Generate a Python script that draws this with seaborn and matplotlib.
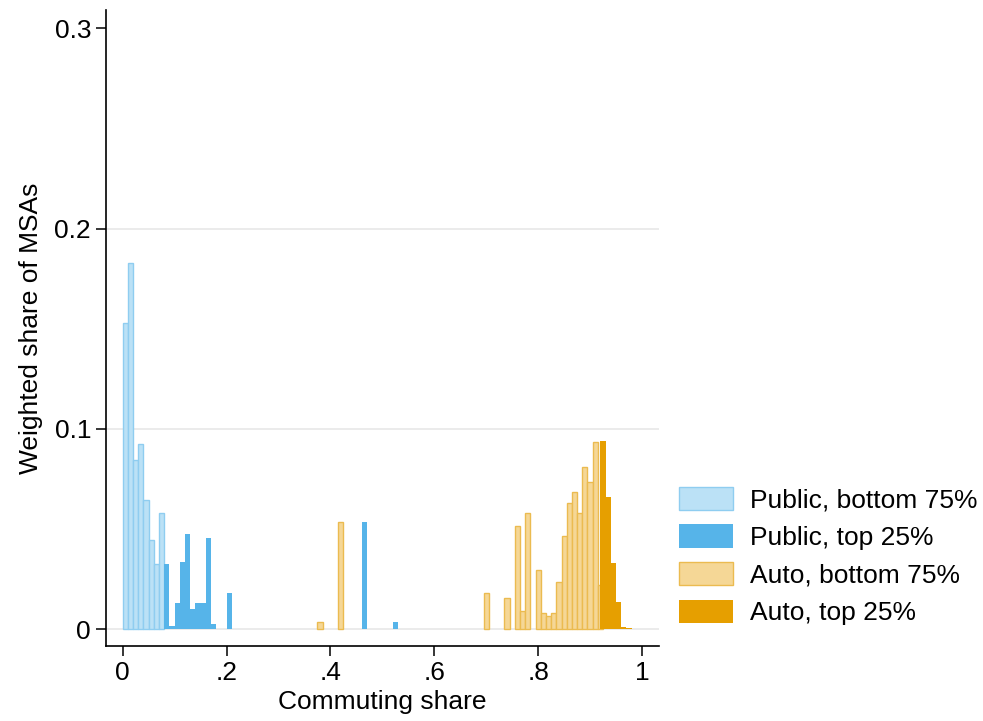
import numpy as np
import pandas as pd
import matplotlib
matplotlib.use("Agg")
import matplotlib.pyplot as plt
import seaborn as sns
from matplotlib.patches import Patch

# ---------------- data (bin left edges, weighted share) ----------------
pub_bot_bins = [0.00, 0.01, 0.02, 0.03, 0.04, 0.05, 0.06, 0.07]
pub_bot_vals = [0.153, 0.183, 0.0843, 0.0923, 0.0645, 0.0444, 0.0325, 0.058]

pub_top_bins = [0.08, 0.09, 0.10, 0.11, 0.12, 0.13, 0.14, 0.15, 0.16, 0.17, 0.20, 0.46, 0.52]
pub_top_vals = [0.0326, 0.0017, 0.013, 0.0336, 0.0477, 0.0103, 0.013, 0.013, 0.0456, 0.0027,
                0.0181, 0.0534, 0.0035]

auto_bot_bins = [0.375, 0.415, 0.695, 0.735, 0.755, 0.765, 0.775, 0.795, 0.805, 0.815, 0.825,
                 0.835, 0.845, 0.855, 0.865, 0.875, 0.885, 0.895, 0.905, 0.915]
auto_bot_vals = [0.0035, 0.0534, 0.018, 0.0155, 0.0514, 0.009, 0.058, 0.0299, 0.0081, 0.0066,
                 0.0081, 0.0236, 0.0465, 0.063, 0.0685, 0.058, 0.081, 0.0735, 0.0933, 0.0221]

auto_top_bins = [0.92, 0.93, 0.94, 0.95, 0.96, 0.97]
auto_top_vals = [0.094, 0.066, 0.033, 0.0138, 0.0012, 0.0005]

series_labels = ["Public, bottom 75%", "Public, top 25%", "Auto, bottom 75%", "Auto, top 25%"]
x_ticks = [0, 0.2, 0.4, 0.6, 0.8, 1.0]
x_ticklabels = ["0", ".2", ".4", ".6", ".8", "1"]
y_ticks = [0, 0.1, 0.2, 0.3]
y_ticklabels = ["0", "0.1", "0.2", "0.3"]
BINW = 0.01

# ---------------- style ----------------
sns.set_theme(style="white")
plt.rcParams["font.family"] = ["Liberation Sans", "DejaVu Sans"]
plt.rcParams["text.color"] = "black"

FS = 19
fills = ["#bbe1f6", "#56b4e9", "#f5d796", "#e69f00"]
edges = ["#8fcdf0", "#56b4e9", "#ebbb50", "#e69f00"]
lws = [1.0, 0.0, 1.0, 0.0]

fig = plt.figure(figsize=(9.83, 7.21), dpi=100)
ax = fig.add_axes([0.1078, 0.1036, 0.6707 - 0.1078, 0.9861 - 0.1036])

series = [(pub_bot_bins, pub_bot_vals), (pub_top_bins, pub_top_vals),
          (auto_bot_bins, auto_bot_vals), (auto_top_bins, auto_top_vals)]

for i, (b, v) in enumerate(series):
    b = np.asarray(b, dtype=float)
    nb = int(round((b.max() - b.min()) / BINW)) + 1
    bin_edges = [float(b.min() + BINW * k) for k in range(nb + 1)]
    df = pd.DataFrame({"x": b + BINW / 2, "w": np.asarray(v, dtype=float)})
    sns.histplot(data=df, x="x", weights="w", bins=bin_edges, stat="count", ax=ax,
                 color=fills[i], edgecolor=edges[i], linewidth=lws[i], alpha=1,
                 zorder=2 + i)

# remove empty bins (zero height bars)
for p in list(ax.patches):
    if p.get_height() <= 0:
        p.remove()

ax.set_xlim(-0.0322, 1.0333)
ax.set_ylim(-0.0084, 0.309)
ax.set_xticks(x_ticks)
ax.set_xticklabels(x_ticklabels)
ax.set_yticks(y_ticks)
ax.set_yticklabels(y_ticklabels)

ax.yaxis.grid(True, color="#e6e6e6", linewidth=1.1, zorder=0)
ax.set_axisbelow(True)
ax.get_ygridlines()[-1].set_visible(False)

for s in ["top", "right"]:
    ax.spines[s].set_visible(False)
for s in ["left", "bottom"]:
    ax.spines[s].set_color("black")
    ax.spines[s].set_linewidth(1.2)

ax.tick_params(axis="both", which="both", direction="out", length=7.2, width=1.1,
               color="black", labelsize=FS, labelcolor="black", pad=3.5,
               left=True, bottom=True)

ax.set_xlabel("Commuting share", fontsize=FS, color="black")
ax.set_ylabel("Weighted share of MSAs", fontsize=FS, color="black")
ax.xaxis.set_label_coords(0.5, -0.068)
ax.yaxis.set_label_coords(-0.114, 0.5)

handles = [Patch(facecolor=fills[i], edgecolor=edges[i], linewidth=1.0 if lws[i] > 0 else 0)
           for i in range(4)]
fig.legend(handles, series_labels, loc="center left", bbox_to_anchor=(0.6907, 0.2288),
           frameon=False, fontsize=FS, labelcolor="black", handlelength=2.05,
           handleheight=0.985, handletextpad=0.64, labelspacing=0.45,
           borderpad=0, borderaxespad=0)

fig.savefig("out.png", dpi=100)
